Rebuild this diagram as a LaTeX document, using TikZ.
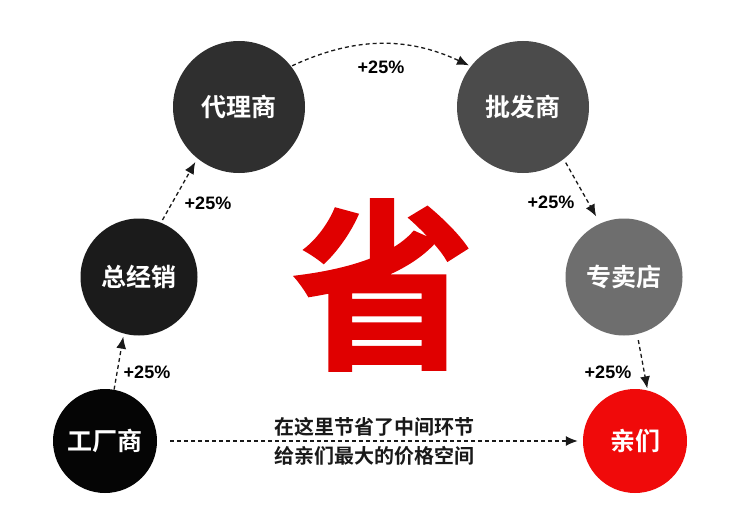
\documentclass[tikz,border=0pt]{standalone}
\usepackage{fontspec}
\setmainfont{Liberation Sans}
\newfontfamily\cjk{Noto Sans CJK SC}[BoldFont={Noto Sans CJK SC Bold}]
\newfontfamily\cjkheavy{Noto Sans CJK SC Bold}[FakeBold=1.5]
\usetikzlibrary{arrows.meta}
\definecolor{c1}{HTML}{050505}
\definecolor{c2}{HTML}{1B1B1B}
\definecolor{c3}{HTML}{2F2F2F}
\definecolor{c4}{HTML}{4B4B4B}
\definecolor{c5}{HTML}{6E6E6E}
\definecolor{c6}{HTML}{F00A0A}
\definecolor{bigred}{HTML}{E00000}
\begin{document}
\begin{tikzpicture}[x=1pt,y=-1pt,
  ball/.style={circle, inner sep=0pt, text=white, font=\cjk\bfseries\fontsize{25}{25}\selectfont},
  flow/.style={draw=black!90, line width=1.3pt, dash pattern=on 4pt off 3pt, -{Latex[length=12pt,width=10pt]}},
  pct/.style={font=\bfseries\fontsize{18}{18}\selectfont, text=black},
  note/.style={font=\cjk\bfseries\fontsize{20}{20}\selectfont, text=black!90}]
\useasboundingbox (0,0) rectangle (750,519);
\fill[white] (0,0) rectangle (750,519);

\node[ball, fill=c1, minimum size=104pt] (gc)  at (105,441) {工厂商};
\node[ball, fill=c2, minimum size=117pt] (zjx) at (139,277) {总经销};
\node[ball, fill=c3, minimum size=132pt] (dls) at (239,107) {代理商};
\node[ball, fill=c4, minimum size=132pt] (pfs) at (523,107) {批发商};
\node[ball, fill=c5, minimum size=117pt] (zmd) at (624,277) {专卖店};
\node[ball, fill=c6, minimum size=104pt] (qm)  at (635,441) {亲们};

\node[font=\cjkheavy\fontsize{182}{182}\selectfont, text=bigred] (sheng) at (383,285) {省};

\draw[flow, shorten >=3pt] (gc.80) -- (zjx.-105);
\draw[flow, shorten <=3pt, shorten >=4pt] (zjx.68) -- (dls.-129);
\draw[flow, shorten <=1pt, shorten >=2pt] (dls.38) to[bend left=25] (pfs.142);
\draw[flow, shorten <=4pt, shorten >=8pt] (pfs.-52) -- (zmd.114);
\draw[flow, shorten <=6pt, shorten >=2pt] (zmd.-77) -- (qm.76);
\draw[flow, shorten <=13pt, shorten >=5pt] (gc.east) -- (qm.west);

\node[pct] (p1) at (147,372) {+25\%};
\node[pct] (p2) at (208,203) {+25\%};
\node[pct] (p3) at (381,67) {+25\%};
\node[pct] (p4) at (551,202) {+25\%};
\node[pct] (p5) at (608,372) {+25\%};

\node[note] (t1) at (374,427) {在这里节省了中间环节};
\node[note] (t2) at (374,456) {给亲们最大的价格空间};
\end{tikzpicture}
\end{document}
